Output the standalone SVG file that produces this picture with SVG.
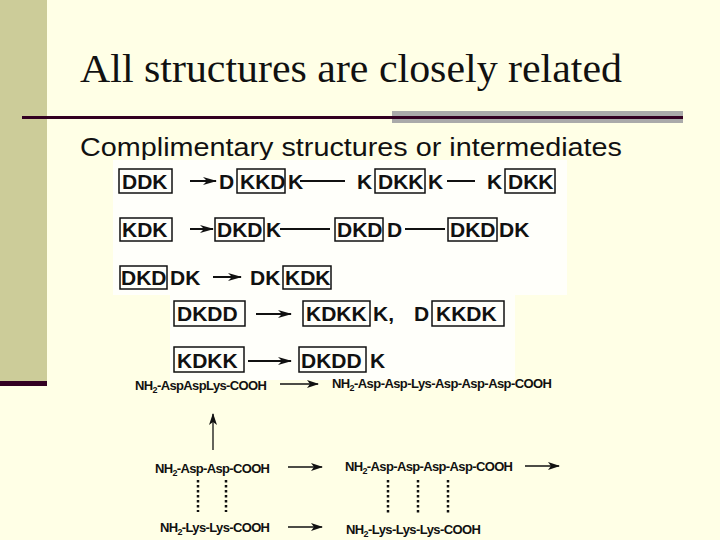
<svg xmlns="http://www.w3.org/2000/svg" width="720" height="540" viewBox="0 0 720 540">
<defs>
<marker id="ah" markerWidth="14" markerHeight="8" refX="13" refY="4" orient="auto" markerUnits="userSpaceOnUse"><path d="M0,0 L14,4 L0,8 L4,4 Z" fill="#111"/></marker>
<marker id="ah2" markerWidth="12" markerHeight="8" refX="11" refY="4" orient="auto" markerUnits="userSpaceOnUse"><path d="M0,0 L12,4 L0,8 L3,4 Z" fill="#111"/></marker>
</defs>
<style>
.s{font-family:"Liberation Sans",Arial,sans-serif;font-weight:bold;font-size:21px;fill:#111}
.c{font-family:"Liberation Sans",Arial,sans-serif;font-weight:bold;font-size:13px;fill:#111}
.b{fill:none;stroke:#111;stroke-width:1.5}
.l{stroke:#111;stroke-width:2;fill:none}
.a{stroke:#111;stroke-width:2;fill:none;marker-end:url(#ah)}
.a2{stroke:#111;stroke-width:1.3;fill:none;marker-end:url(#ah2)}
.d{stroke:#111;stroke-width:2.5;stroke-dasharray:2.5,2.5}
</style>
<rect width="720" height="540" fill="#FFFFE6"/>
<rect x="0" y="0" width="47" height="382" fill="#CCCC99"/>
<rect x="0" y="381" width="47" height="5" fill="#330022"/>
<rect x="392" y="111" width="291" height="12" fill="#AAAAAA"/>
<rect x="22" y="116" width="661" height="3" fill="#330022"/>
<text x="80" y="82" font-family="Liberation Serif,serif" font-size="40" fill="#111" textLength="542" lengthAdjust="spacingAndGlyphs">All structures are closely related</text>
<text x="80" y="156" font-family="Liberation Sans,Arial,sans-serif" font-size="25" fill="#111" textLength="542" lengthAdjust="spacingAndGlyphs">Complimentary structures  or  intermediates</text>
<rect x="113" y="160" width="454" height="135" fill="#FFFFFA"/>
<rect x="170" y="295" width="345" height="85" fill="#FFFFFA"/>
<g id="connectors">
<line class="a" x1="190" y1="181" x2="216" y2="181"/>
<line class="l" x1="300" y1="181" x2="345" y2="181"/>
<line class="l" x1="447" y1="181" x2="475" y2="181"/>
<line class="a" x1="190" y1="229" x2="213" y2="229"/>
<line class="l" x1="280" y1="229" x2="330" y2="229"/>
<line class="l" x1="405" y1="229" x2="445" y2="229"/>
<line class="a" x1="213" y1="277" x2="241" y2="277"/>
<line class="a" x1="256" y1="314" x2="291" y2="314"/>
<line class="a" x1="248" y1="361" x2="291" y2="361"/>
<line class="a2" x1="280" y1="384" x2="318" y2="384"/>
<line class="a2" x1="213" y1="450" x2="213" y2="414"/>
<line class="a2" x1="288" y1="467" x2="322" y2="467"/>
<line class="a2" x1="525" y1="466" x2="559" y2="466"/>
<line class="a2" x1="288" y1="527" x2="322" y2="527"/>
<line class="d" x1="198" y1="480" x2="198" y2="512"/>
<line class="d" x1="226" y1="480" x2="226" y2="512"/>
<line class="d" x1="388" y1="480" x2="388" y2="514"/>
<line class="d" x1="418" y1="480" x2="418" y2="514"/>
<line class="d" x1="448" y1="480" x2="448" y2="514"/>
</g>
<g id="row1">
<rect class="b" x="119" y="169" width="53" height="24"/><text class="s" x="122" y="189">DDK</text>
<text class="s" x="219" y="189">D</text>
<rect class="b" x="237" y="169" width="48" height="24"/><text class="s" x="240" y="189">KKD</text>
<text class="s" x="288" y="189">K</text>
<text class="s" x="357" y="189">K</text>
<rect class="b" x="375" y="169" width="50" height="24"/><text class="s" x="378" y="189">DKK</text>
<text class="s" x="428" y="189">K</text>
<text class="s" x="487" y="189">K</text>
<rect class="b" x="505" y="169" width="50" height="24"/><text class="s" x="508" y="189">DKK</text>
</g>
<g id="row2">
<rect class="b" x="120" y="218" width="52" height="23"/><text class="s" x="122" y="237">KDK</text>
<rect class="b" x="215" y="218" width="49" height="23"/><text class="s" x="217" y="237">DKD</text>
<text class="s" x="266" y="237">K</text>
<rect class="b" x="335" y="218" width="48" height="23"/><text class="s" x="337" y="237">DKD</text>
<text class="s" x="387" y="237">D</text>
<rect class="b" x="448" y="218" width="49" height="23"/><text class="s" x="450" y="237">DKD</text>
<text class="s" x="499" y="237">DK</text>
</g>
<g id="row3">
<rect class="b" x="120" y="266" width="47" height="23"/><text class="s" x="121" y="285">DKD</text>
<text class="s" x="170" y="285">DK</text>
<text class="s" x="250" y="285">DK</text>
<rect class="b" x="283" y="266" width="48" height="23"/><text class="s" x="285" y="285">KDK</text>
</g>
<g id="row4">
<rect class="b" x="174" y="301" width="71" height="25"/><text class="s" x="177" y="321">DKDD</text>
<rect class="b" x="303" y="301" width="67" height="25"/><text class="s" x="306" y="321">KDKK</text>
<text class="s" x="373" y="321">K,</text>
<text class="s" x="414" y="321">D</text>
<rect class="b" x="432" y="301" width="72" height="25"/><text class="s" x="436" y="321">KKDK</text>
</g>
<g id="row5">
<rect class="b" x="174" y="347" width="70" height="25"/><text class="s" x="177" y="368">KDKK</text>
<rect class="b" x="299" y="347" width="67" height="25"/><text class="s" x="301" y="368">DKDD</text>
<text class="s" x="370" y="368">K</text>
</g>
<g id="chem">
<text class="c" x="135" y="390" textLength="132">NH<tspan font-size="9" dy="3">2</tspan><tspan dy="-3">-AspAspLys-COOH</tspan></text>
<text class="c" x="332" y="388" textLength="220">NH<tspan font-size="9" dy="3">2</tspan><tspan dy="-3">-Asp-Asp-Lys-Asp-Asp-Asp-COOH</tspan></text>
<text class="c" x="155" y="473" textLength="115">NH<tspan font-size="9" dy="3">2</tspan><tspan dy="-3">-Asp-Asp-COOH</tspan></text>
<text class="c" x="345" y="471" textLength="168">NH<tspan font-size="9" dy="3">2</tspan><tspan dy="-3">-Asp-Asp-Asp-Asp-COOH</tspan></text>
<text class="c" x="160" y="532" textLength="110">NH<tspan font-size="9" dy="3">2</tspan><tspan dy="-3">-Lys-Lys-COOH</tspan></text>
<text class="c" x="346" y="534" textLength="135">NH<tspan font-size="9" dy="3">2</tspan><tspan dy="-3">-Lys-Lys-Lys-COOH</tspan></text>
</g>
</svg>
